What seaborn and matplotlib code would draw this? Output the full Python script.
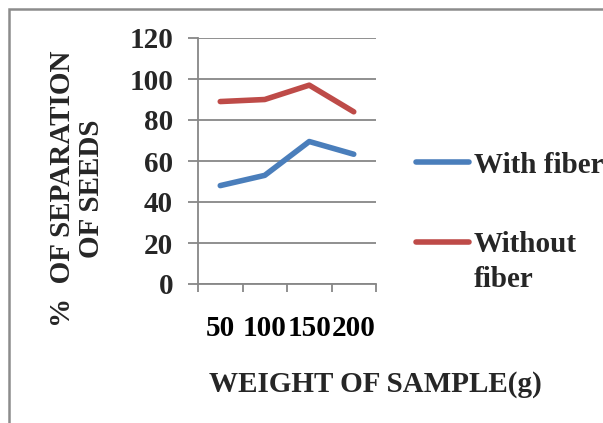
import matplotlib
matplotlib.use("Agg")
import matplotlib.pyplot as plt
from matplotlib.lines import Line2D
from matplotlib.patches import Rectangle
import seaborn as sns
import pandas as pd
import numpy as np

weights = ["50", "100", "150", "200"]
with_fiber = [48, 53, 69.5, 63.3]
without_fiber = [89, 90, 97, 84]
series_names = ["With fiber", "Without fiber"]
y_ticks = [0, 20, 40, 60, 80, 100, 120]

sns.set_theme(style="white")
plt.rcParams['font.family'] = ['Liberation Serif', 'DejaVu Serif']
plt.rcParams['font.weight'] = 'bold'

W, H = 603, 423
fig = plt.figure(figsize=(W / 100, H / 100), dpi=100)
fig.patch.set_facecolor("white")

def fx(px):
    return px / W

def fy(py):
    return 1 - py / H

ax = fig.add_axes([fx(198), fy(284), fx(376) - fx(198), fy(38) - fy(284)])

df = pd.DataFrame({
    "pos": list(range(len(weights))) * 2,
    "value": with_fiber + without_fiber,
    "series": [series_names[0]] * len(weights) + [series_names[1]] * len(weights),
})
colors = {"With fiber": "#4A7EBB", "Without fiber": "#BE4B48"}
sns.lineplot(data=df, x="pos", y="value", hue="series", palette=colors,
             linewidth=4.0, ax=ax, legend=False, solid_capstyle="round")

fs = 21
ax.set_xlim(-0.5, len(weights) - 0.5)
ax.set_ylim(0, 120)
ax.set_yticks(y_ticks)
ax.set_yticklabels([str(v) for v in y_ticks], fontsize=fs, fontweight="bold")
ax.set_xticks(range(len(weights)))
ax.set_xticklabels(weights, fontsize=fs, fontweight="bold")
ax.set_xticks(np.arange(-0.5, len(weights), 1.0), minor=True)
ax.tick_params(axis="x", which="major", length=0, pad=22, colors="black")
ax.tick_params(axis="x", which="minor", length=6, width=1.3, color="#878787", direction="out", bottom=True)
ax.tick_params(axis="y", which="major", length=7, width=1.3, color="#878787", direction="out", pad=11, left=True)
ax.set_xlabel("")
ax.set_ylabel("")
ax.yaxis.grid(True, color="#878787", linewidth=1.3)
ax.xaxis.grid(False)
for side in ["top", "right"]:
    ax.spines[side].set_visible(False)
for side in ["left", "bottom"]:
    ax.spines[side].set_color("#878787")
    ax.spines[side].set_linewidth(1.3)
ax.set_axisbelow(True)
ax.set_facecolor("none")

# Y label
fig.text(fx(77), fy(189), "%  OF SEPARATION\nOF SEEDS", rotation=90,
         ha="center", va="center", multialignment="center",
         fontsize=fs, fontweight="bold", linespacing=1.05)
# X label
fig.text(fx(375), fy(392), "WEIGHT OF SAMPLE(g)", ha="center", va="baseline",
         fontsize=fs, fontweight="bold")

# Legend
leg_y = [162, 242]
for name, yy in zip(series_names, leg_y):
    fig.add_artist(Line2D([fx(416), fx(469)], [fy(yy), fy(yy)], color=colors[name],
                          linewidth=4.0, solid_capstyle="round"))
fig.text(fx(474), fy(173), "With fiber", ha="left", va="baseline", fontsize=fs, fontweight="bold")
fig.text(fx(474), fy(252), "Without", ha="left", va="baseline", fontsize=fs, fontweight="bold")
fig.text(fx(474), fy(287), "fiber", ha="left", va="baseline", fontsize=fs, fontweight="bold")

# Outer frame
fig.add_artist(Rectangle((fx(8.5), fy(H + 20)), 1.2, fy(9.5) - fy(H + 20),
                         transform=fig.transFigure, fill=False,
                         edgecolor="#8C8C8C", linewidth=1.8))

fig.savefig("out.png", dpi=100)
